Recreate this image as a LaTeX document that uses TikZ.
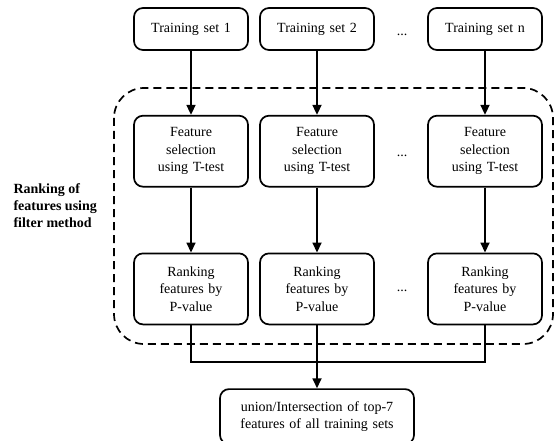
\documentclass[tikz,border=0pt]{standalone}
\usepackage{fontspec}
\setmainfont{Liberation Serif}
\usetikzlibrary{positioning}
\usetikzlibrary{arrows.meta}

\tikzset{
	box/.style = {draw, rounded corners=9pt, line width=1.7pt, align=center,
		font=\fontsize{14}{17.5}\selectfont, text width=110pt, minimum width=114pt,
		inner sep=0pt},
	arr/.style = {line width=1.7pt, -{Triangle[width=9pt,length=10pt]}},
	conn/.style = {line width=1.7pt},
	dots/.style = {font=\fontsize{14}{17}\selectfont, anchor=base}
}

\begin{document}
\begin{tikzpicture}[x=1pt, y=-1pt, node distance = 64pt]
		\useasboundingbox (0,0) rectangle (554,441);
		% group of filter steps
		\draw[line width=1.7pt, dash pattern=on 8pt off 5pt, rounded corners=30pt] (114,88) rectangle (553,344);
		\node[anchor=west, align=left, font=\fontsize{14}{17}\selectfont\bfseries] (lbl) at (10,206) {Ranking of\\features using\\filter method};
		% training sets
		\node[box, minimum height=42pt] (t1) at (191,29) {Training set 1};
		\node[box, minimum height=42pt] (t2) at (317,29) {Training set 2};
		\node[box, minimum height=42pt] (tn) at (485,29) {Training set n};
		% t-test
		\node[box, minimum height=71pt, below = of t1] (f1) {Feature\\selection\\using T-test};
		\node[box, minimum height=71pt, below = of t2] (f2) {Feature\\selection\\using T-test};
		\node[box, minimum height=71pt, below = of tn] (fn) {Feature\\selection\\using T-test};
		% p-value
		\node[box, minimum height=71pt, below = 65pt of f1] (r1) {Ranking\\features by\\P-value};
		\node[box, minimum height=71pt, below = 65pt of f2] (r2) {Ranking\\features by\\P-value};
		\node[box, minimum height=71pt, below = 65pt of fn] (rn) {Ranking\\features by\\P-value};
		\node[box, minimum height=55pt, text width=190pt, minimum width=194pt, below = 63pt of r2] (u) {union/Intersection of top-7\\features of all training sets};
		\node[dots] (d1) at (402,36) {...};
		\node[dots] (d2) at (402,157) {...};
		\node[dots] (d3) at (402,291) {...};
		\draw[arr] (t1) -- (f1);
		\draw[arr] (t2) -- (f2);
		\draw[arr] (tn) -- (fn);
		\draw[arr] (f1) -- (r1);
		\draw[arr] (f2) -- (r2);
		\draw[arr] (fn) -- (rn);
		\coordinate[below = 37pt of r2.south] (m);
		\draw[conn] (r1.south) |- (m) -| (rn.south);
		\draw[arr] (r2) -- (u);
	\end{tikzpicture}
\end{document}
